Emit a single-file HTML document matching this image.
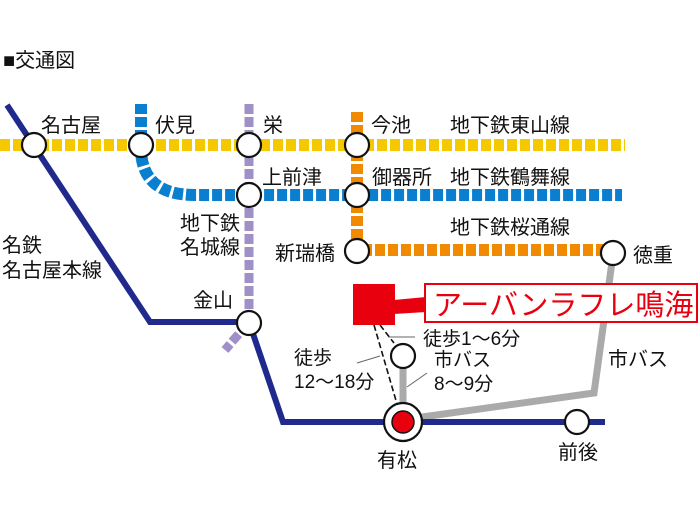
<!DOCTYPE html>
<html><head><meta charset="utf-8"><style>
html,body{margin:0;padding:0;background:#fff;}
svg{display:block;}
text{font-family:"Liberation Sans","Noto Sans CJK JP",sans-serif;fill:#111;}
</style></head><body>
<svg width="700" height="525" viewBox="0 0 700 525" xmlns="http://www.w3.org/2000/svg">
<rect width="700" height="525" fill="#fff"/>
<text x="3" y="67" font-size="20">■交通図</text>

<line x1="0" y1="145" x2="625" y2="145" stroke="#f5c800" stroke-width="12" stroke-dasharray="10,3"/>
<path d="M141,104 V148 Q141,195 195,195 H622" fill="none" stroke="#0a7fcf" stroke-width="12" stroke-dasharray="10,3"/>
<path d="M357,112 V250 H605" fill="none" stroke="#f08a00" stroke-width="12" stroke-dasharray="10,3"/>
<path d="M249,104 V322 L225,350" fill="none" stroke="#9f90c8" stroke-width="9" stroke-dasharray="10,3"/>

<path d="M612,262 L594,393 L415,418" fill="none" stroke="#aaa" stroke-width="7"/>
<line x1="403" y1="360" x2="403" y2="410" stroke="#aaa" stroke-width="7"/>

<path d="M7,105 L150,322 H249 L283,422 H605" fill="none" stroke="#1f2a8c" stroke-width="6"/>

<path d="M374,325 L397,404" fill="none" stroke="#111" stroke-width="1.6" stroke-dasharray="6,3"/>
<path d="M380,325 L394,343" fill="none" stroke="#111" stroke-width="1.6" stroke-dasharray="6,3"/>
<line x1="388" y1="337" x2="415" y2="337" stroke="#666" stroke-width="1"/>
<line x1="357" y1="363" x2="380" y2="356" stroke="#666" stroke-width="1"/>
<line x1="407" y1="387" x2="427" y2="373" stroke="#666" stroke-width="1"/>

<g fill="#fff" stroke="#111" stroke-width="2.2">
<circle cx="34" cy="145" r="12"/>
<circle cx="141" cy="145" r="12"/>
<circle cx="249" cy="145" r="12"/>
<circle cx="357" cy="145" r="12"/>
<circle cx="249" cy="195" r="12"/>
<circle cx="357" cy="195" r="12"/>
<circle cx="357" cy="251" r="12"/>
<circle cx="613" cy="253" r="12"/>
<circle cx="249" cy="323" r="12"/>
<circle cx="403" cy="356" r="12"/>
<circle cx="577" cy="422" r="12"/>
<circle cx="403" cy="422" r="19"/>
</g>
<circle cx="403" cy="422" r="11" fill="#e8000f" stroke="#111" stroke-width="1.5"/>

<rect x="353" y="284" width="42" height="41" fill="#e8000f"/>
<polygon points="394,300 426,297 426,312 394,314" fill="#e8000f"/>
<rect x="425" y="284" width="272" height="38" fill="#fff" stroke="#e8000f" stroke-width="2"/>
<text x="433" y="315" font-size="29" style="fill:#e8000f">アーバンラフレ鳴海</text>

<g font-size="20">
<text x="41" y="132">名古屋</text>
<text x="155" y="132">伏見</text>
<text x="263" y="132">栄</text>
<text x="371" y="132">今池</text>
<text x="450" y="132">地下鉄東山線</text>
<text x="262" y="184">上前津</text>
<text x="372" y="184">御器所</text>
<text x="450" y="184">地下鉄鶴舞線</text>
<text x="450" y="234">地下鉄桜通線</text>
<text x="180" y="230">地下鉄</text>
<text x="180" y="254">名城線</text>
<text x="275" y="260">新瑞橋</text>
<text x="633" y="262">徳重</text>
<text x="2" y="252">名鉄</text>
<text x="2" y="277">名古屋本線</text>
<text x="193" y="307">金山</text>
<text x="377" y="467">有松</text>
<text x="558" y="459">前後</text>
<text x="608" y="366">市バス</text>
</g>
<g font-size="19">
<text x="423" y="345">徒歩1～6分</text>
<text x="294" y="364">徒歩</text>
<text x="294" y="388">12～18分</text>
<text x="434" y="366">市バス</text>
<text x="434" y="390">8～9分</text>
</g>
</svg>
</body></html>
